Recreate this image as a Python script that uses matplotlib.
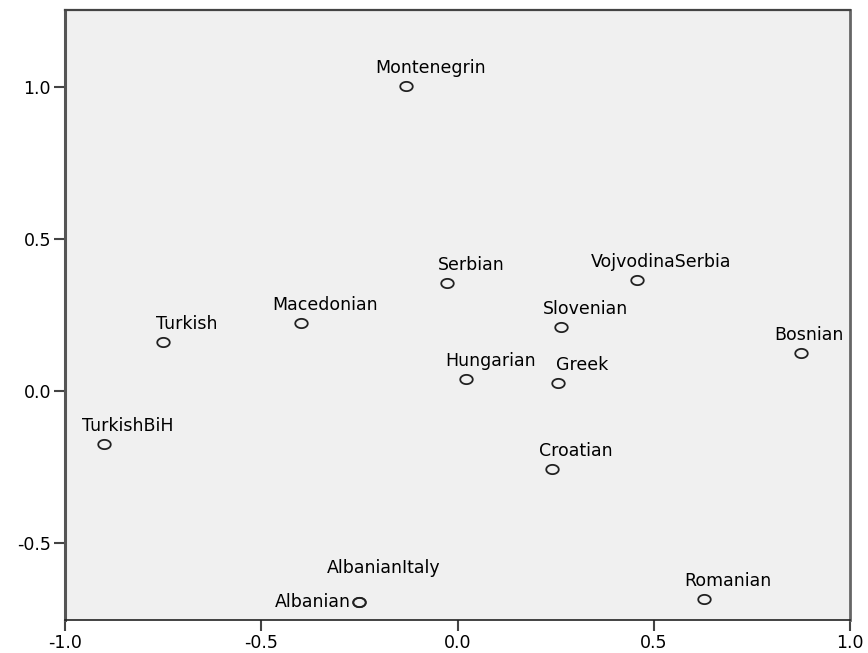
import numpy as np
import matplotlib
matplotlib.use("Agg")
import matplotlib.pyplot as plt
from matplotlib.path import Path
from matplotlib.ticker import FormatStrFormatter

plt.rcParams['font.family'] = ['DejaVu Sans']
plt.rcParams['axes.unicode_minus'] = False

# data
names = ['Montenegrin', 'Serbian', 'VojvodinaSerbia', 'Macedonian', 'Turkish',
         'Slovenian', 'Bosnian', 'Hungarian', 'Greek', 'TurkishBiH', 'Croatian',
         'Albanian', 'AlbanianItaly', 'Romanian']
dim1 = [-0.131, -0.027, 0.457, -0.399, -0.750, 0.264, 0.875, 0.022, 0.256,
        -0.901, 0.241, -0.251, -0.251, 0.628]
dim2 = [1.003, 0.355, 0.365, 0.224, 0.161, 0.211, 0.125, 0.039, 0.026,
        -0.174, -0.257, -0.694, -0.694, -0.684]
xticks = [-1.0, -0.5, 0.0, 0.5, 1.0]
yticks = [-0.5, 0.0, 0.5, 1.0]

# label placement (pixels from the point), default is up and to the right
default_offset = (24, 18, 'center')
special_offsets = {
    'Bosnian': (8, 18, 'center'),
    'Albanian': (-8, 0, 'right'),
    'AlbanianItaly': (25, 34, 'center'),
}

# slightly wide ellipse marker, like the stretched SPSS output
t = np.linspace(0, 2 * np.pi, 60)
ellipse = Path(np.column_stack([1.35 * np.cos(t), np.sin(t)]), closed=True)

fig = plt.figure(figsize=(8.68, 6.53), dpi=100)
ax = fig.add_axes([65 / 868, 33 / 653, 785 / 868, 610 / 653])
ax.set_facecolor('#f0f0f0')

ax.plot(dim1, dim2, linestyle='none', marker=ellipse, markersize=9,
        markerfacecolor='none', markeredgecolor='#222222', markeredgewidth=1.3)

for name, x, y in zip(names, dim1, dim2):
    dx, dy, ha = special_offsets.get(name, default_offset)
    ax.annotate(name, (x, y), xytext=(dx, dy), textcoords='offset pixels',
                ha=ha, va='center', fontsize=12.5, color='black')

ax.set_xlim(-1.0, 1.0)
ax.set_ylim(-0.753, 1.253)
ax.set_xticks(xticks)
ax.set_yticks(yticks)
ax.xaxis.set_major_formatter(FormatStrFormatter('%.1f'))
ax.yaxis.set_major_formatter(FormatStrFormatter('%.1f'))
ax.tick_params(axis='both', direction='out', length=8, width=1.5,
               color='#444444', labelsize=12.5, pad=2)

ax.spines['left'].set_linewidth(2.2)
ax.spines['left'].set_color('#555555')
ax.spines['bottom'].set_linewidth(1.2)
ax.spines['bottom'].set_color('#222222')
ax.spines['top'].set_linewidth(1.6)
ax.spines['top'].set_color('#444444')
ax.spines['right'].set_linewidth(2.0)
ax.spines['right'].set_color('#666666')

fig.savefig('out.png', dpi=100)
